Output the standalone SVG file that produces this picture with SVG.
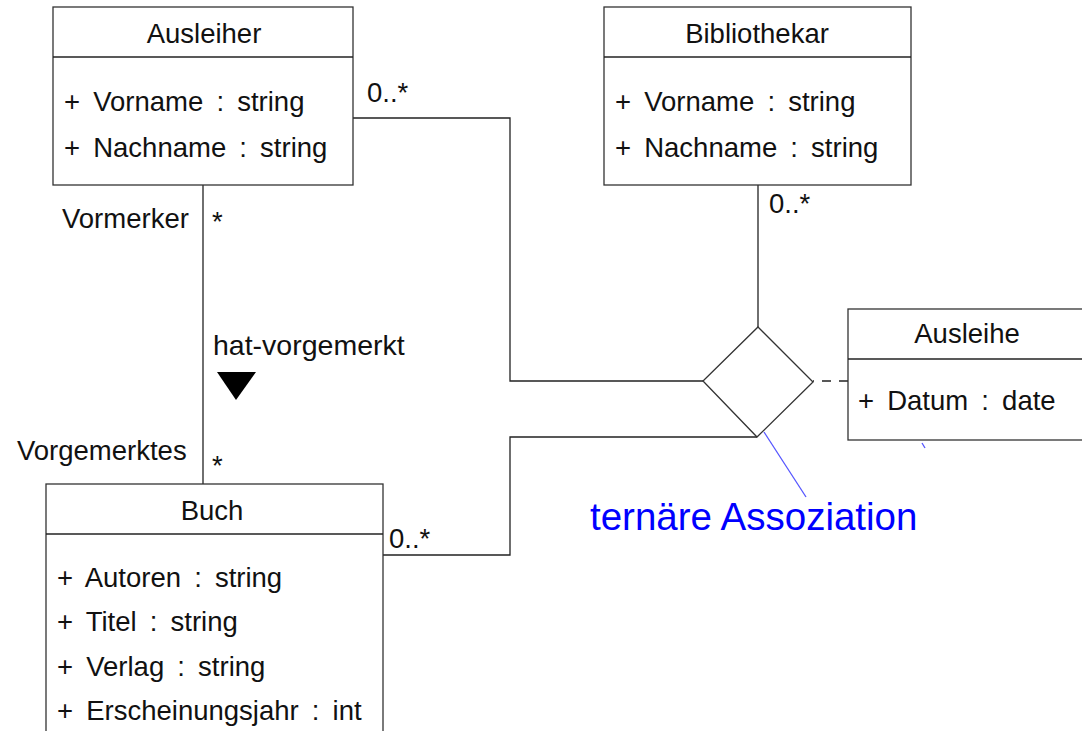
<svg xmlns="http://www.w3.org/2000/svg" width="1082" height="731" viewBox="0 0 1082 731">
<style>
.box{fill:#fff;stroke:#333;stroke-width:1.3}
.ln{fill:none;stroke:#222;stroke-width:1.3}
text{font-family:"Liberation Sans",Arial,sans-serif;font-size:27.5px;fill:#111}
.t{text-anchor:middle}
.a{word-spacing:5.5px}
.blue{fill:#0000ff;font-size:38.5px}
</style>
<rect width="1082" height="731" fill="#fff"/>
<g id="connectors">
<polyline class="ln" points="353,118 510,118 510,381 703,381"/>
<polyline class="ln" points="381,555 510,555 510,437 757,437"/>
<line class="ln" x1="758" y1="185" x2="758" y2="327"/>
<line class="ln" x1="203" y1="185" x2="203" y2="490"/>
<line class="ln" x1="813" y1="381" x2="848" y2="381" stroke-dasharray="9,8" stroke-dashoffset="-9"/>
<line x1="764" y1="432" x2="806" y2="497" stroke="#5555ff" stroke-width="1.3"/>
<line x1="922" y1="443" x2="925" y2="448" stroke="#5555ff" stroke-width="1.3"/>
<text x="367" y="102">0..*</text>
<text x="769" y="213">0..*</text>
<text x="389" y="548">0..*</text>
<text x="62" y="228">Vormerker</text>
<text x="212" y="231">*</text>
<text x="17" y="460">Vorgemerktes</text>
<text x="212" y="475">*</text>
<text x="213" y="355" style="font-size:28.5px">hat-vorgemerkt</text>
<polygon points="217,372 256,372 236,400" fill="#000"/>
</g>
<g id="assoc">
<polygon class="box" points="758,327 813,382 757,437 703,381"/>
<text class="blue" x="590" y="530">ternäre Assoziation</text>
</g>
<g id="ausleiher">
<rect class="box" x="53" y="7" width="300" height="178"/>
<line class="ln" x1="53" y1="57" x2="353" y2="57"/>
<text class="t" x="204" y="43">Ausleiher</text>
<text class="a" x="64" y="111">+ Vorname : string</text>
<text class="a" x="64" y="157">+ Nachname : string</text>
</g>
<g id="bibliothekar">
<rect class="box" x="604" y="7" width="307" height="178"/>
<line class="ln" x1="604" y1="57" x2="911" y2="57"/>
<text class="t" x="757" y="43">Bibliothekar</text>
<text class="a" x="615" y="111">+ Vorname : string</text>
<text class="a" x="615" y="157">+ Nachname : string</text>
</g>
<g id="ausleihe">
<rect class="box" x="848" y="309" width="240" height="131"/>
<line class="ln" x1="848" y1="359" x2="1088" y2="359"/>
<text class="t" x="967" y="343">Ausleihe</text>
<text class="a" x="858" y="410">+ Datum : date</text>
</g>
<g id="buch">
<rect class="box" x="46" y="484" width="337" height="260"/>
<line class="ln" x1="46" y1="534" x2="383" y2="534"/>
<text class="t" x="212" y="520">Buch</text>
<text class="a" x="57" y="587">+ Autoren : string</text>
<text class="a" x="57" y="631">+ Titel : string</text>
<text class="a" x="57" y="676">+ Verlag : string</text>
<text class="a" x="57" y="720">+ Erscheinungsjahr : int</text>
</g>
</svg>
